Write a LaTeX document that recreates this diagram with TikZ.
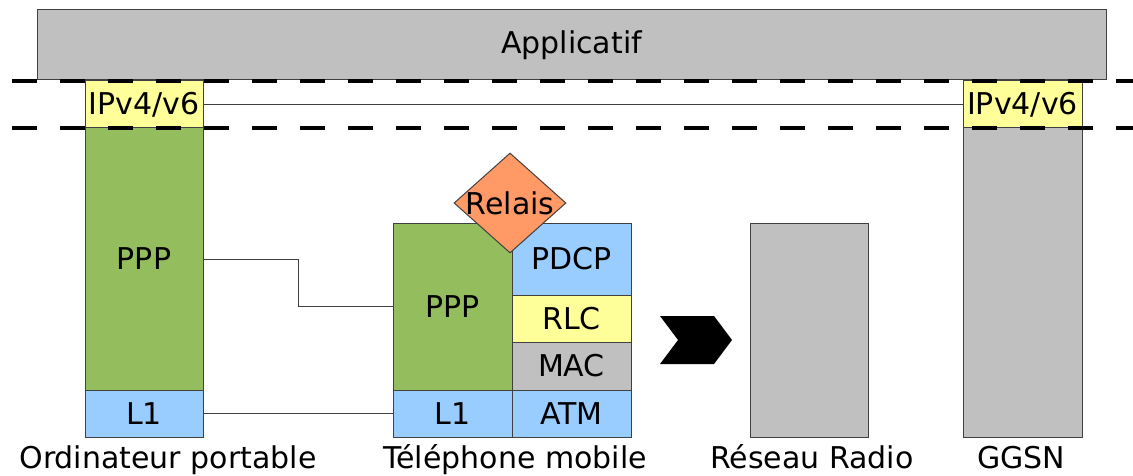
\documentclass[tikz,border=0pt]{standalone}
\usepackage{fontspec}
\setmainfont{DejaVu Sans}
\usepackage{tikz}
\usetikzlibrary{positioning,shapes.geometric}

\definecolor{appgray}{HTML}{C0C0C0}
\definecolor{pppgreen}{HTML}{94BD5E}
\definecolor{ipyellow}{HTML}{FFFF99}
\definecolor{l1blue}{HTML}{99CCFF}
\definecolor{relaisorange}{HTML}{FF9966}
\definecolor{edgegray}{HTML}{404040}

\tikzset{
  layer/.style={draw=edgegray,line width=1pt,inner sep=0pt,outer sep=0pt,
                minimum width=119pt},
  caption/.style={anchor=base,inner sep=0pt},
  link/.style={draw=edgegray,line width=1pt},
  sep/.style={line width=4pt,dash pattern=on 25pt off 23pt},
}

\begin{document}
\begin{tikzpicture}[x=1pt,y=-1pt,font=\fontsize{30}{36}\selectfont]
%
  \useasboundingbox (0,0) rectangle (1133,476);
%
  % application layer
  \node[layer,fill=appgray,anchor=north west,minimum width=1069pt,
        minimum height=70pt] (app) at (37,10) {Applicatif};
%
  % laptop
  \node[layer,fill=ipyellow,anchor=north west,minimum width=118pt,
        minimum height=47pt] (ipL) at (85,81) {IPv4/v6};
  \node[layer,fill=pppgreen,minimum width=118pt,minimum height=262pt,
        below=0pt of ipL] (pppL) {PPP};
  \node[layer,fill=l1blue,minimum width=118pt,minimum height=47pt,
        below=0pt of pppL] (l1L) {L1};
%
  % mobile phone
  \node[layer,fill=pppgreen,anchor=north west,minimum height=167pt]
        (pppM) at (393,223) {PPP};
  \node[layer,fill=l1blue,minimum height=47pt,below=0pt of pppM] (l1M) {L1};
  \node[layer,fill=l1blue,anchor=north west,minimum height=72pt]
        (pdcp) at (pppM.north east) {PDCP};
  \node[layer,fill=ipyellow,minimum height=47pt,below=0pt of pdcp] (rlc) {RLC};
  \node[layer,fill=appgray,minimum height=48pt,below=0pt of rlc] (mac) {MAC};
  \node[layer,fill=l1blue,minimum height=47pt,below=0pt of mac] (atm) {ATM};
  \node[diamond,draw=edgegray,line width=1pt,fill=relaisorange,inner sep=0pt,
        minimum width=112pt,minimum height=100pt] (relais) at (510,203) {};
  \node at (relais) {Relais};
%
  % radio network
  \node[layer,fill=appgray,anchor=north west,minimum width=118pt,
        minimum height=214pt] (radio) at (750,223) {};
%
  % GGSN
  \node[layer,fill=ipyellow,anchor=north west,minimum height=47pt]
        (ipR) at (963,81) {IPv4/v6};
  \node[layer,fill=appgray,minimum height=309pt,below=0pt of ipR] (ggsn) {};
%
  % chevron
  \fill (660,316) -- (714,316) -- (732,340) -- (714,364) -- (660,364)
        -- (678,340) -- cycle;
%
  % links
  \draw[link] (ipL) -- (ipR);
  \draw[link] (pppL.east |- 0,259) -| (298,306) -- (pppM.west |- 0,306);
  \draw[link] (l1L) -- (l1M);
%
  % separators
  \draw[sep] (12,81) -- (1133,81);
  \draw[sep] (12,128) -- (1133,128);
%
  % captions
  \node[caption] (capL) at (168,468) {Ordinateur portable};
  \node[caption] (capM) at (515,468) {Téléphone mobile};
  \node[caption] (capR) at (812,468) {Réseau Radio};
  \node[caption] (capG) at (1021,468) {GGSN};

\end{tikzpicture}
\end{document}
